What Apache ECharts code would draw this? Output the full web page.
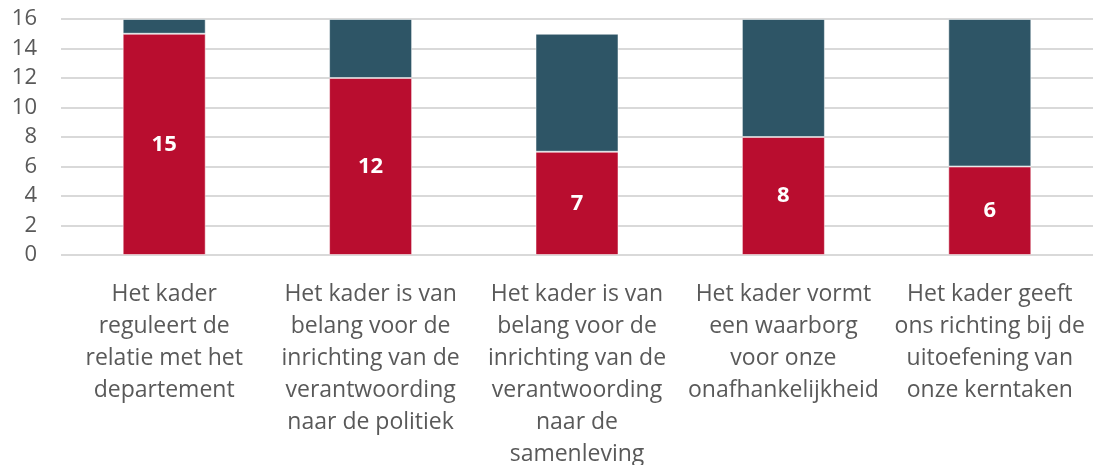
<!DOCTYPE html>
<html>
<head>
<meta charset="utf-8">
<script src="https://cdn.jsdelivr.net/npm/echarts@6/dist/echarts.min.js"></script>
<style>
html,body{margin:0;padding:0;background:#fff;}
#chart{width:1095px;height:465px;}
</style>
</head>
<body>
<div id="chart"></div>
<script>
// categorieen en waarden
var categories = [
	'Het kader\nreguleert de\nrelatie met het\ndepartement',
	'Het kader is van\nbelang voor de\ninrichting van de\nverantwoording\nnaar de politiek',
	'Het kader is van\nbelang voor de\ninrichting van de\nverantwoording\nnaar de\nsamenleving',
	'Het kader vormt\neen waarborg\nvoor onze\nonafhankelijkheid',
	'Het kader geeft\nons richting bij de\nuitoefening van\nonze kerntaken'
];
var redValues = [15, 12, 7, 8, 6];
var tealValues = [1, 4, 8, 8, 10];
var yTicks = [0, 2, 4, 6, 8, 10, 12, 14, 16];

var myChart = echarts.init(document.getElementById('chart'));

var option = {
	animation: false,
	textStyle: { fontFamily: 'Open Sans' },
	grid: { left: 61, right: 2, top: 19, bottom: 210, outerBoundsMode: 'none' },
	xAxis: {
		type: 'category',
		data: categories,
		axisLine: { show: false },
		axisTick: { show: false },
		axisLabel: {
			interval: 0,
			fontSize: 23,
			lineHeight: 32,
			color: '#595959',
			margin: 23
		}
	},
	yAxis: {
		type: 'value',
		min: yTicks[0],
		max: yTicks[yTicks.length - 1],
		interval: 2,
		axisLine: { show: false },
		axisTick: { show: false },
		axisLabel: { fontSize: 22, color: '#595959', margin: 24 },
		splitLine: { lineStyle: { color: '#d9d9d9', width: 2 } }
	},
	series: [
		{
			name: 'rood',
			type: 'bar',
			stack: 'a',
			barWidth: 83,
			data: redValues,
			itemStyle: { color: '#b90d2f', borderColor: 'rgba(255,255,255,0.5)', borderWidth: 1 },
			label: {
				show: true,
				position: 'inside',
				color: '#fff',
				fontSize: 22,
				fontWeight: 'bold'
			}
		},
		{
			name: 'blauw',
			type: 'bar',
			stack: 'a',
			barWidth: 83,
			data: tealValues,
			itemStyle: { color: '#2e5566', borderColor: 'rgba(255,255,255,0.5)', borderWidth: 1 }
		}
	]
};

myChart.setOption(option);
</script>
</body>
</html>
